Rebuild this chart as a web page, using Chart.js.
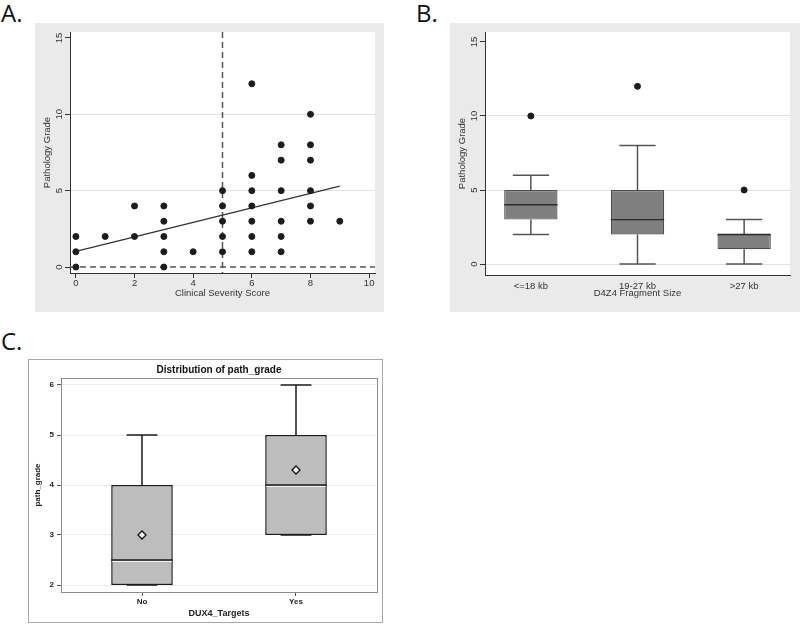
<!DOCTYPE html>
<html>
<head>
<meta charset="utf-8">
<script src="https://cdn.jsdelivr.net/npm/chart.js@4.4.1/dist/chart.umd.min.js"></script>
<style>
  html, body { margin: 0; padding: 0; background: #ffffff; }
  body { width: 800px; height: 626px; position: relative; overflow: hidden; }
  .lbl { position: absolute; font-family: "Open Sans", "Liberation Sans", sans-serif; font-size: 24px; line-height: 24px; color: #111; }
  .panel { position: absolute; }
  .panel canvas { position: absolute; left: 0; top: 0; }
</style>
</head>
<body>
<div class="lbl" style="left:1px;top:1px">A.</div>
<div class="lbl" style="left:416px;top:1px">B.</div>
<div class="lbl" style="left:1px;top:329px">C.</div>

<div class="panel" style="left:35px;top:23px;width:349px;height:289px;background:#eaeaea">
  <canvas id="chartA" width="349" height="289"></canvas>
</div>
<div class="panel" style="left:450px;top:23px;width:350px;height:289px;background:#eaeaea">
  <canvas id="chartB" width="350" height="289"></canvas>
</div>
<div class="panel" style="left:28px;top:359px;width:355px;height:264px;background:#fff">
  <div style="position:absolute;left:0;top:0;width:353px;height:262px;border:1px solid #a8a8a8"></div>
  <canvas id="chartC" width="355" height="264"></canvas>
</div>

<script>
// ---------------- Panel A data ----------------
const severityScore  = [0,0,0, 1, 2,2, 3,3,3,3,3, 4, 5,5,5,5,5, 6,6,6,6,6,6,6, 7,7,7,7,7,7, 8,8,8,8,8,8, 9];
const pathologyGrade = [0,1,2, 2, 2,4, 0,1,2,3,4, 1, 1,2,3,4,5, 1,2,3,4,5,6,12, 1,2,3,5,7,8, 3,4,5,7,8,10, 3];
const fitLineX = [0, 9];
const fitLineY = [1.03, 5.3];
const refLineX = [5];
const refLineY = [0];
const xTicksA = [0, 2, 4, 6, 8, 10];
const yTicksA = [0, 5, 10, 15];
const gridA = [5, 10];

// ---------------- Panel B data ----------------
const fragmentSizes = ['<=18 kb', '19-27 kb', '>27 kb'];
const bWhiskerLow  = [2, 0, 0];
const bQ1          = [3, 2, 1];
const bMedian      = [4, 3, 2];
const bQ3          = [5, 5, 2];
const bWhiskerHigh = [6, 8, 3];
const bOutliers    = [10, 12, 5];
const yTicksB = [0, 5, 10, 15];
const gridB = [0, 5, 10];

// ---------------- Panel C data ----------------
const dux4Targets  = ['No', 'Yes'];
const cWhiskerLow  = [2, 3];
const cQ1          = [2, 3];
const cMedian      = [2.5, 4];
const cQ3          = [4, 5];
const cWhiskerHigh = [5, 6];
const cMean        = [3, 4.3];
const yTicksC = [2, 3, 4, 5, 6];

// ---------------- helpers ----------------
const ARIAL = '"Liberation Sans", Arial, sans-serif';
const STATA_FONT = { family: ARIAL, size: 9.5 };

function fixSize(px, horizontal) {
  return s => {
    if (horizontal) s.height = px; else s.width = px;
    s.paddingLeft = 0; s.paddingRight = 0; s.paddingTop = 0; s.paddingBottom = 0;
  };
}
function fixTicks(values) {
  return s => { s.ticks = values.map(v => ({ value: v })); };
}

const plotBackground = {
  id: 'plotBackground',
  beforeDraw(chart, args, o) {
    const { ctx, chartArea: a } = chart;
    ctx.save();
    ctx.fillStyle = o.color || '#fff';
    ctx.fillRect(a.left, a.top, a.right - a.left, a.bottom - a.top);
    ctx.restore();
  },
  afterDraw(chart, args, o) {
    if (!o.frame) return;
    const { ctx, chartArea: a } = chart;
    ctx.save();
    ctx.strokeStyle = o.frame;
    ctx.lineWidth = 1;
    ctx.strokeRect(Math.round(a.left) + 0.5, Math.round(a.top) + 0.5, Math.round(a.right - a.left), Math.round(a.bottom - a.top));
    ctx.restore();
  }
};

const refLines = {
  id: 'refLines',
  beforeDatasetsDraw(chart, args, o) {
    if (!o.xs) return;
    const { ctx, chartArea: a, scales: { x, y } } = chart;
    ctx.save();
    ctx.strokeStyle = o.color;
    ctx.lineWidth = o.width;
    ctx.setLineDash(o.dash);
    o.xs.forEach(v => {
      const px = x.getPixelForValue(v);
      ctx.beginPath(); ctx.moveTo(px, a.top); ctx.lineTo(px, a.bottom); ctx.stroke();
    });
    o.ys.forEach(v => {
      const py = y.getPixelForValue(v);
      ctx.beginPath(); ctx.moveTo(a.left, py); ctx.lineTo(a.right, py); ctx.stroke();
    });
    ctx.restore();
  }
};

const boxWhiskers = {
  id: 'boxWhiskers',
  beforeDatasetsDraw(chart, args, o) {
    if (!o.low) return;
    const { ctx, scales: { x, y } } = chart;
    ctx.save();
    ctx.strokeStyle = o.whiskerColor;
    ctx.lineWidth = o.whiskerWidth;
    const seg = (x1, y1, x2, y2) => { ctx.beginPath(); ctx.moveTo(x1, y1); ctx.lineTo(x2, y2); ctx.stroke(); };
    o.low.forEach((lo, i) => {
      const px = x.getPixelForValue(i);
      const half = x.getPixelForValue(i + o.cap / 2) - px;
      const yLo = y.getPixelForValue(lo), yHi = y.getPixelForValue(o.high[i]);
      const yQ1 = y.getPixelForValue(o.q1[i]), yQ3 = y.getPixelForValue(o.q3[i]);
      seg(px, yQ1, px, yLo); seg(px - half, yLo, px + half, yLo);
      seg(px, yQ3, px, yHi); seg(px - half, yHi, px + half, yHi);
    });
    ctx.restore();
  },
  afterDatasetsDraw(chart, args, o) {
    if (!o.median) return;
    const { ctx, scales: { x, y } } = chart;
    ctx.save();
    o.median.forEach((m, i) => {
      const half = x.getPixelForValue(i + o.box / 2) - x.getPixelForValue(i);
      const px = x.getPixelForValue(i);
      const py = y.getPixelForValue(m);
      if (o.medianLight) {
        ctx.strokeStyle = o.medianLight; ctx.lineWidth = 1;
        ctx.beginPath(); ctx.moveTo(px - half + 1, py + 1.5); ctx.lineTo(px + half - 1, py + 1.5); ctx.stroke();
      }
      ctx.strokeStyle = o.medianColor; ctx.lineWidth = o.medianWidth;
      ctx.beginPath(); ctx.moveTo(px - half, py); ctx.lineTo(px + half, py); ctx.stroke();
    });
    ctx.restore();
  }
};

Chart.register(plotBackground, refLines, boxWhiskers);

// ---------------- Chart A ----------------
new Chart(document.getElementById('chartA'), {
  type: 'scatter',
  data: {
    datasets: [
      {
        label: 'Pathology Grade',
        data: severityScore.map((v, i) => ({ x: v, y: pathologyGrade[i] })),
        backgroundColor: '#1c1c1c', borderColor: '#1c1c1c',
        pointRadius: 3, pointHoverRadius: 3
      },
      {
        type: 'line', label: 'Fit',
        data: fitLineX.map((v, i) => ({ x: v, y: fitLineY[i] })),
        borderColor: '#333', borderWidth: 1.2, pointRadius: 0, fill: false
      }
    ]
  },
  options: {
    responsive: false, animation: false, events: [],
    layout: { padding: { left: 0, top: 9, right: 9, bottom: 0 } },
    plugins: {
      legend: { display: false }, tooltip: { enabled: false },
      plotBackground: { color: '#ffffff' },
      refLines: { xs: refLineX, ys: refLineY, color: '#555', width: 1.5, dash: [6, 4] },
      boxWhiskers: {}
    },
    scales: {
      x: {
        type: 'linear', min: -0.2, max: 10.2,
        afterBuildTicks: fixTicks(xTicksA), afterFit: fixSize(39, true),
        border: { display: true, color: '#333', width: 1 },
        grid: { drawOnChartArea: false, color: '#333', tickLength: 5 },
        ticks: { color: '#333', padding: 0, font: STATA_FONT, maxRotation: 0 },
        title: { display: true, text: 'Clinical Severity Score', color: '#333', font: STATA_FONT, padding: { top: 0, bottom: 13 } }
      },
      y: {
        type: 'linear', min: -0.39, max: 15.39,
        afterBuildTicks: fixTicks(yTicksA), afterFit: fixSize(35, false),
        border: { display: true, color: '#333', width: 1 },
        grid: { color: c => (c.tick && gridA.includes(c.tick.value)) ? '#e2e2e2' : 'rgba(0,0,0,0)', tickColor: '#333', tickLength: 5 },
        ticks: { color: '#333', padding: 0, minRotation: 90, maxRotation: 90, crossAlign: 'center', font: STATA_FONT },
        title: { display: true, text: 'Pathology Grade', color: '#333', font: STATA_FONT, padding: { top: 7, bottom: 0 } }
      }
    }
  }
});

// ---------------- Chart B ----------------
new Chart(document.getElementById('chartB'), {
  type: 'bar',
  data: {
    datasets: [
      {
        type: 'scatter', label: 'Outliers',
        data: bOutliers.map((v, i) => ({ x: i, y: v })),
        backgroundColor: '#1c1c1c', borderColor: '#1c1c1c', pointRadius: 3
      },
      {
        type: 'bar', label: 'IQR',
        data: bQ1.map((v, i) => ({ x: i, y: [v, bQ3[i]] })),
        backgroundColor: '#7f7f7f', borderColor: '#4d4d4d', borderWidth: 1.2, borderSkipped: false,
        categoryPercentage: 1, barPercentage: 0.5
      }
    ]
  },
  options: {
    responsive: false, animation: false, events: [],
    layout: { padding: { left: 0, top: 9, right: 10, bottom: 0 } },
    plugins: {
      legend: { display: false }, tooltip: { enabled: false },
      plotBackground: { color: '#ffffff' },
      refLines: {},
      boxWhiskers: {
        low: bWhiskerLow, high: bWhiskerHigh, q1: bQ1, q3: bQ3, median: bMedian,
        cap: 0.34, box: 0.5, whiskerColor: '#555', whiskerWidth: 1.5,
        medianColor: '#2b2b2b', medianWidth: 1.4
      }
    },
    scales: {
      x: {
        type: 'linear', min: -0.43, max: 2.43, offset: false,
        afterBuildTicks: fixTicks([0, 1, 2]), afterFit: fixSize(37, true),
        border: { display: true, color: '#333', width: 1 },
        grid: { offset: false, drawOnChartArea: false, color: 'rgba(0,0,0,0)', tickLength: 6 },
        ticks: { color: '#333', padding: 0, maxRotation: 0, font: STATA_FONT, callback: v => fragmentSizes[v] },
        title: { display: true, text: 'D4Z4 Fragment Size', color: '#333', font: STATA_FONT, padding: { top: 0, bottom: 13 } }
      },
      y: {
        type: 'linear', min: -0.74, max: 15.67, beginAtZero: false,
        afterBuildTicks: fixTicks(yTicksB), afterFit: fixSize(35, false),
        border: { display: true, color: '#333', width: 1 },
        grid: { color: c => (c.tick && gridB.includes(c.tick.value)) ? '#e2e2e2' : 'rgba(0,0,0,0)', tickColor: '#333', tickLength: 5 },
        ticks: { color: '#333', padding: 0, minRotation: 90, maxRotation: 90, crossAlign: 'center', font: STATA_FONT },
        title: { display: true, text: 'Pathology Grade', color: '#333', font: STATA_FONT, padding: { top: 7, bottom: 0 } }
      }
    }
  }
});

// ---------------- Chart C ----------------
new Chart(document.getElementById('chartC'), {
  type: 'bar',
  data: {
    datasets: [
      {
        type: 'scatter', label: 'Mean',
        data: cMean.map((v, i) => ({ x: i, y: v })),
        pointStyle: 'rectRot', pointRadius: 4, backgroundColor: '#ffffff', borderColor: '#111', borderWidth: 1.3
      },
      {
        type: 'bar', label: 'path_grade',
        data: cQ1.map((v, i) => ({ x: i, y: [v, cQ3[i]] })),
        backgroundColor: '#bdbdbd', borderColor: '#1a1a1a', borderWidth: 1.5, borderSkipped: false,
        categoryPercentage: 1, barPercentage: 0.4
      }
    ]
  },
  options: {
    responsive: false, animation: false, events: [],
    layout: { padding: { left: 0, top: 0, right: 6, bottom: 0 } },
    plugins: {
      legend: { display: false }, tooltip: { enabled: false },
      title: {
        display: true, fullSize: false, text: 'Distribution of path_grade', color: '#111',
        font: { family: ARIAL, size: 10, weight: 'bold' }, padding: { top: 5, bottom: 2 }
      },
      plotBackground: { color: '#ffffff', frame: '#8c8c8c' },
      refLines: {},
      boxWhiskers: {
        low: cWhiskerLow, high: cWhiskerHigh, q1: cQ1, q3: cQ3, median: cMedian,
        cap: 0.2, box: 0.4, whiskerColor: '#1a1a1a', whiskerWidth: 1.5,
        medianColor: '#1a1a1a', medianWidth: 1.3, medianLight: '#f2f2f2'
      }
    },
    scales: {
      x: {
        type: 'linear', min: -0.526, max: 1.526, offset: false,
        afterBuildTicks: fixTicks([0, 1]), afterFit: fixSize(31, true),
        border: { display: true, color: '#8c8c8c', width: 1 },
        grid: { offset: false, drawOnChartArea: false, color: '#555', tickLength: 4 },
        ticks: { color: '#222', padding: 1, maxRotation: 0, font: { family: ARIAL, size: 8, weight: 'bold' }, callback: v => dux4Targets[v] },
        title: { display: true, text: 'DUX4_Targets', color: '#222', font: { family: ARIAL, size: 9, weight: 'bold' }, padding: { top: 0, bottom: 4 } }
      },
      y: {
        type: 'linear', min: 1.86, max: 6.14, beginAtZero: false,
        afterBuildTicks: fixTicks(yTicksC), afterFit: fixSize(33, false),
        border: { display: true, color: '#8c8c8c', width: 1 },
        grid: { color: '#ececec', tickColor: '#555', tickLength: 4 },
        ticks: { color: '#222', padding: 3, font: { family: ARIAL, size: 8, weight: 'bold' } },
        title: { display: true, text: 'path_grade', color: '#222', font: { family: ARIAL, size: 8, weight: 'bold' }, padding: { top: 5, bottom: 0 } }
      }
    }
  }
});
</script>
</body>
</html>
